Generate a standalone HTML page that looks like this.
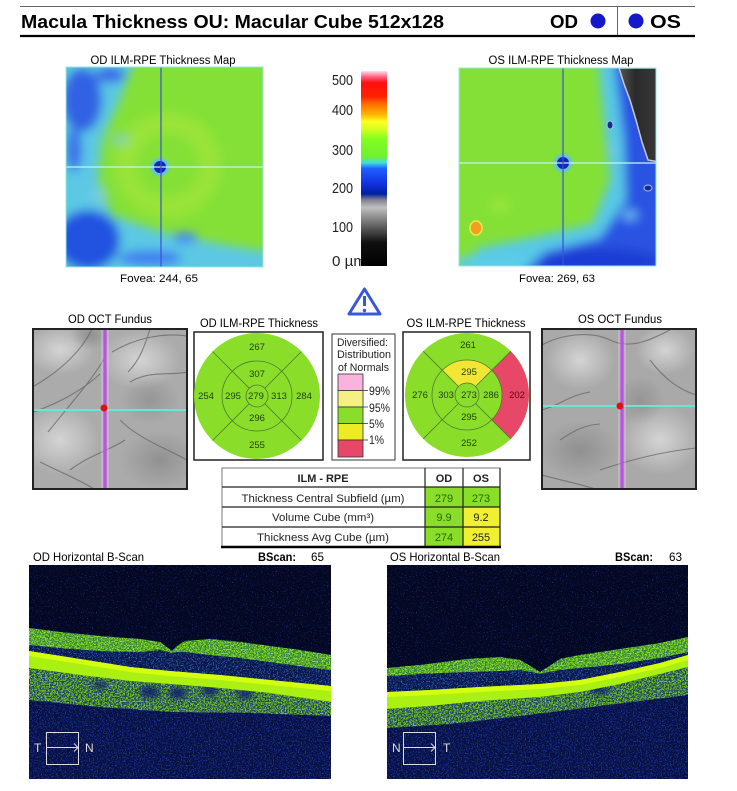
<!DOCTYPE html>
<html><head><meta charset="utf-8">
<style>
html,body{margin:0;padding:0;background:#fff;}
svg{display:block;}
text{font-family:"Liberation Sans",Arial,sans-serif;}
</style></head>
<body>
<svg width="737" height="791" viewBox="0 0 737 791" xmlns="http://www.w3.org/2000/svg">
<defs>
 <filter id="bl5" x="-50%" y="-50%" width="200%" height="200%"><feGaussianBlur stdDeviation="5"/></filter>
 <filter id="bl3" x="-50%" y="-50%" width="200%" height="200%"><feGaussianBlur stdDeviation="3"/></filter>
 <filter id="bl1" x="-50%" y="-50%" width="200%" height="200%"><feGaussianBlur stdDeviation="1.2"/></filter>
 <filter id="spkA" x="0" y="0" width="1" height="1" color-interpolation-filters="sRGB">
  <feTurbulence type="fractalNoise" baseFrequency="0.75" numOctaves="2" seed="2" result="n"/>
  <feColorMatrix in="n" type="matrix" values="0 0 0 0 0 0 0 0 0 0 0 0 0 0 0 5 0 0 0 -2.1" result="a"/>
  <feComposite in="SourceGraphic" in2="a" operator="in"/>
 </filter>
 <filter id="spkM" x="0" y="0" width="1" height="1" color-interpolation-filters="sRGB">
  <feTurbulence type="fractalNoise" baseFrequency="0.75" numOctaves="2" seed="4" result="n"/>
  <feColorMatrix in="n" type="matrix" values="0 0 0 0 0 0 0 0 0 0 0 0 0 0 0 6 0 0 0 -3.1" result="a"/>
  <feComposite in="SourceGraphic" in2="a" operator="in"/>
 </filter>
 <filter id="spkB" x="0" y="0" width="1" height="1" color-interpolation-filters="sRGB">
  <feTurbulence type="fractalNoise" baseFrequency="0.8" numOctaves="2" seed="7" result="n"/>
  <feColorMatrix in="n" type="matrix" values="0 0 0 0 0 0 0 0 0 0 0 0 0 0 0 8 0 0 0 -5" result="a"/>
  <feComposite in="SourceGraphic" in2="a" operator="in"/>
 </filter>
 <linearGradient id="cbar" x1="0" y1="0" x2="0" y2="1">
  <stop offset="0" stop-color="#ffe0f0"/>
  <stop offset="0.03" stop-color="#ff6080"/>
  <stop offset="0.06" stop-color="#ff1010"/>
  <stop offset="0.13" stop-color="#ff2000"/>
  <stop offset="0.17" stop-color="#ff7000"/>
  <stop offset="0.22" stop-color="#ffb000"/>
  <stop offset="0.26" stop-color="#ffff20"/>
  <stop offset="0.30" stop-color="#d0ff20"/>
  <stop offset="0.35" stop-color="#80ff20"/>
  <stop offset="0.44" stop-color="#70f030"/>
  <stop offset="0.47" stop-color="#40e0e0"/>
  <stop offset="0.50" stop-color="#2060ff"/>
  <stop offset="0.58" stop-color="#1030e0"/>
  <stop offset="0.63" stop-color="#0020a0"/>
  <stop offset="0.66" stop-color="#808090"/>
  <stop offset="0.70" stop-color="#c0c0c0"/>
  <stop offset="0.78" stop-color="#707070"/>
  <stop offset="0.88" stop-color="#101010"/>
  <stop offset="1" stop-color="#000000"/>
 </linearGradient>
 <linearGradient id="corner" x1="0" y1="0" x2="1" y2="0">
  <stop offset="0" stop-color="#555"/>
  <stop offset="0.4" stop-color="#2a2a2a"/>
  <stop offset="1" stop-color="#3a3a3a"/>
 </linearGradient>
 <clipPath id="cOD"><rect x="66" y="67" width="197" height="200"/></clipPath>
 <clipPath id="cOS"><rect x="459" y="68" width="197" height="198"/></clipPath>
 <clipPath id="cFD"><rect x="33" y="329" width="154" height="160"/></clipPath>
 <clipPath id="cFS"><rect x="542" y="329" width="154" height="160"/></clipPath>
 <clipPath id="cBD"><rect x="29" y="565" width="302" height="214"/></clipPath>
 <clipPath id="cBS"><rect x="387" y="565" width="301" height="214"/></clipPath>
 <radialGradient id="light" cx="0.5" cy="0.5" r="0.5"><stop offset="0" stop-color="#d4d4d4"/><stop offset="1" stop-color="#d4d4d4" stop-opacity="0"/></radialGradient>
 <radialGradient id="dark" cx="0.5" cy="0.5" r="0.5"><stop offset="0" stop-color="#808080"/><stop offset="1" stop-color="#808080" stop-opacity="0"/></radialGradient>
</defs>

<rect width="737" height="791" fill="#fff"/>

<!-- Header -->
<line x1="20" y1="6.5" x2="695" y2="6.5" stroke="#666" stroke-width="1"/>
<text x="21" y="28" font-size="18" font-weight="bold" fill="#000" textLength="423" lengthAdjust="spacingAndGlyphs">Macula Thickness OU: Macular Cube 512x128</text>
<text x="550" y="28" font-size="18" font-weight="bold" fill="#000" textLength="28" lengthAdjust="spacingAndGlyphs">OD</text>
<circle cx="598" cy="21" r="7.5" fill="#1418c8"/>
<line x1="617.5" y1="7" x2="617.5" y2="35" stroke="#666" stroke-width="1"/>
<circle cx="636" cy="21" r="7.5" fill="#1418c8"/>
<text x="650" y="28" font-size="18" font-weight="bold" fill="#000" textLength="31" lengthAdjust="spacingAndGlyphs">OS</text>
<line x1="20" y1="36" x2="695" y2="36" stroke="#000" stroke-width="2.2"/>

<!-- OD map -->
<text x="163" y="64" font-size="11.5" text-anchor="middle" textLength="145" lengthAdjust="spacingAndGlyphs">OD ILM-RPE Thickness Map</text>
<g clip-path="url(#cOD)">
 <rect x="66" y="67" width="197" height="200" fill="#84e036"/>
 <g filter="url(#bl5)">
  <circle cx="168" cy="165" r="42" fill="none" stroke="#aee83c" stroke-width="22" opacity="0.5"/>
  <path d="M60,60 L135,60 L120,100 L102,140 L98,180 L112,215 L160,232 L230,246 L270,252 L270,275 L60,275 Z" fill="#5cc8e4"/>
  <ellipse cx="82" cy="100" rx="20" ry="32" fill="#3262e4"/>
  <ellipse cx="74" cy="150" rx="8" ry="22" fill="#3a70e8"/>
  <ellipse cx="88" cy="240" rx="32" ry="30" fill="#2452e0"/>
  <ellipse cx="150" cy="258" rx="32" ry="8" fill="#4080f0"/>
  <ellipse cx="185" cy="238" rx="12" ry="6" fill="#4a8af0"/>
  <ellipse cx="110" cy="75" rx="15" ry="8" fill="#3a6ae8"/>
  <ellipse cx="120" cy="140" rx="10" ry="6" fill="#80d0d8" opacity="0.7"/>
  <ellipse cx="100" cy="195" rx="8" ry="10" fill="#80d0d8" opacity="0.7"/>
 </g>
 <circle cx="160" cy="167" r="9" fill="#60c0f0" filter="url(#bl1)"/>
 <circle cx="160" cy="167" r="6" fill="#1424b4"/>
 <line x1="66" y1="167" x2="263" y2="167" stroke="#c8f4f4" stroke-width="1.2"/>
 <line x1="161" y1="67" x2="161" y2="267" stroke="#3a50d8" stroke-width="1.2"/>
</g>
<rect x="66" y="67" width="197" height="200" fill="none" stroke="#90e8e8" stroke-width="1"/>
<text x="159" y="282" font-size="11" text-anchor="middle" textLength="78" lengthAdjust="spacingAndGlyphs">Fovea: 244, 65</text>

<!-- Colorbar -->
<g font-size="15" fill="#222">
 <text x="332" y="85" textLength="21" lengthAdjust="spacingAndGlyphs">500</text>
 <text x="332" y="115" textLength="21" lengthAdjust="spacingAndGlyphs">400</text>
 <text x="332" y="155" textLength="21" lengthAdjust="spacingAndGlyphs">300</text>
 <text x="332" y="193" textLength="21" lengthAdjust="spacingAndGlyphs">200</text>
 <text x="332" y="232" textLength="21" lengthAdjust="spacingAndGlyphs">100</text>
 <text x="332" y="266" textLength="34" lengthAdjust="spacingAndGlyphs">0 µm</text>
</g>
<rect x="361" y="71" width="26" height="195" fill="url(#cbar)"/>

<!-- OS map -->
<text x="561" y="64" font-size="11.5" text-anchor="middle" textLength="145" lengthAdjust="spacingAndGlyphs">OS ILM-RPE Thickness Map</text>
<g clip-path="url(#cOS)">
 <rect x="459" y="68" width="197" height="198" fill="#84e036"/>
 <g filter="url(#bl5)">
  <path d="M598,60 L665,60 L665,275 L462,275 L478,248 L540,236 L592,224 L610,180 L604,120 Z" fill="#58c8e6"/>
  <path d="M614,60 L665,60 L665,275 L520,275 L545,252 L600,238 L626,200 L624,140 Z" fill="#2a52e2"/>
  <ellipse cx="600" cy="262" rx="60" ry="14" fill="#1c3cd4"/>
  <ellipse cx="492" cy="262" rx="38" ry="8" fill="#5ccce8"/>
  <ellipse cx="500" cy="205" rx="10" ry="6" fill="#a8e840" opacity="0.7"/>
  <ellipse cx="630" cy="215" rx="8" ry="6" fill="#70c8f0" opacity="0.8"/>
  <ellipse cx="612" cy="150" rx="6" ry="8" fill="#70c8f0" opacity="0.7"/>
 </g>
 <path d="M619,68 L660,68 L660,162 L648,160 L642,142 L636,120 L630,100 L624,84 Z" fill="url(#corner)" stroke="#c8c8c8" stroke-width="1.5"/>
 <ellipse cx="476" cy="228" rx="6" ry="7" fill="#f0a020" stroke="#f0e840" stroke-width="1.5"/>
 <ellipse cx="610" cy="125" rx="3" ry="4" fill="#1a2a90" stroke="#a0c0f0" stroke-width="1"/>
 <ellipse cx="648" cy="188" rx="4" ry="3" fill="#1a2a90" stroke="#a0c0f0" stroke-width="1"/>
 <circle cx="563" cy="163" r="9" fill="#60c0f0" filter="url(#bl1)"/>
 <circle cx="563" cy="163" r="6" fill="#1424b4"/>
 <line x1="459" y1="163" x2="656" y2="163" stroke="#c8f4f4" stroke-width="1.2"/>
 <line x1="563" y1="68" x2="563" y2="266" stroke="#3a50d8" stroke-width="1.2"/>
</g>
<rect x="459" y="68" width="197" height="198" fill="none" stroke="#90e8e8" stroke-width="1"/>
<text x="557" y="282" font-size="11" text-anchor="middle" textLength="76" lengthAdjust="spacingAndGlyphs">Fovea: 269, 63</text>

<!-- Warning triangle -->
<path d="M364.5,289 L349,314 L380,314 Z" fill="#fff" stroke="#3858d8" stroke-width="3" stroke-linejoin="round"/>
<line x1="364.5" y1="296" x2="364.5" y2="306" stroke="#3858d8" stroke-width="3"/>
<circle cx="364.5" cy="310.5" r="1.7" fill="#3858d8"/>

<!-- OD fundus -->
<text x="110" y="323" font-size="11.5" text-anchor="middle" textLength="84" lengthAdjust="spacingAndGlyphs">OD OCT Fundus</text>
<g clip-path="url(#cFD)">
 <rect x="33" y="329" width="154" height="160" fill="#ababab"/>
 <ellipse cx="60" cy="440" rx="40" ry="35" fill="url(#light)"/>
 <ellipse cx="140" cy="360" rx="40" ry="30" fill="url(#light)"/>
 <ellipse cx="60" cy="350" rx="35" ry="25" fill="url(#light)"/>
 <ellipse cx="160" cy="460" rx="40" ry="30" fill="url(#dark)" opacity="0.6"/>
 <ellipse cx="150" cy="400" rx="30" ry="25" fill="url(#dark)" opacity="0.5"/>
 <ellipse cx="90" cy="335" rx="20" ry="15" fill="url(#dark)" opacity="0.6"/>
 <g fill="none" stroke="#666" stroke-width="1.1" opacity="0.75">
  <path d="M92,329 C82,350 62,370 34,386"/>
  <path d="M112,352 C132,340 160,332 187,336"/>
  <path d="M106,356 C92,380 72,402 48,432"/>
  <path d="M120,420 C140,440 170,450 187,460"/>
  <path d="M40,462 C60,472 80,480 94,489"/>
  <path d="M130,382 C150,370 170,376 187,372"/>
  <path d="M34,412 C60,402 80,392 100,374"/>
  <path d="M150,329 C145,345 140,360 128,372"/>
  <path d="M70,470 C90,455 110,450 125,440"/>
 </g>
 <line x1="33" y1="410" x2="187" y2="410" stroke="#66e8d4" stroke-width="2"/>
 <line x1="102" y1="329" x2="102" y2="489" stroke="#e8c8f0" stroke-width="1" opacity="0.7"/>
 <line x1="108" y1="329" x2="108" y2="489" stroke="#e8c8f0" stroke-width="1" opacity="0.7"/>
 <line x1="105" y1="329" x2="105" y2="489" stroke="#c04ee8" stroke-width="3"/>
 <circle cx="104" cy="408" r="3.5" fill="#e01010"/>
</g>
<rect x="33" y="329" width="154" height="160" fill="none" stroke="#222" stroke-width="2"/>

<!-- OD ETDRS -->
<text x="259" y="327" font-size="11.5" text-anchor="middle" textLength="118" lengthAdjust="spacingAndGlyphs">OD ILM-RPE Thickness</text>
<rect x="194" y="332" width="129" height="128" fill="#fff" stroke="#222" stroke-width="1.5"/>
<g>
 <circle cx="257" cy="396" r="63" fill="#8ade2a"/>
 <g fill="none" stroke="#4c7a30" stroke-width="0.8">
  <circle cx="257" cy="396" r="35"/>
  <circle cx="257" cy="396" r="11"/>
  <line x1="264.8" y1="388.2" x2="301.5" y2="351.5"/>
  <line x1="249.2" y1="388.2" x2="212.5" y2="351.5"/>
  <line x1="264.8" y1="403.8" x2="301.5" y2="440.5"/>
  <line x1="249.2" y1="403.8" x2="212.5" y2="440.5"/>
 </g>
 <g font-size="9.5" text-anchor="middle" fill="#1e4010">
  <text x="257" y="350">267</text>
  <text x="257" y="377">307</text>
  <text x="206" y="399">254</text>
  <text x="233" y="399">295</text>
  <text x="256" y="399">279</text>
  <text x="279" y="399">313</text>
  <text x="304" y="399">284</text>
  <text x="257" y="421">296</text>
  <text x="257" y="448">255</text>
 </g>
</g>

<!-- Legend -->
<rect x="332" y="334" width="63" height="126" fill="#fff" stroke="#333" stroke-width="1"/>
<g font-size="11" fill="#222">
 <text x="337" y="346" textLength="51" lengthAdjust="spacingAndGlyphs">Diversified:</text>
 <text x="337" y="358" textLength="54" lengthAdjust="spacingAndGlyphs">Distribution</text>
 <text x="338" y="371" textLength="51" lengthAdjust="spacingAndGlyphs">of Normals</text>
</g>
<rect x="338" y="374" width="25" height="16.5" fill="#f8b4dc" stroke="#333" stroke-width="0.8"/>
<rect x="338" y="390.5" width="25" height="16.5" fill="#f6f082" stroke="#333" stroke-width="0.8"/>
<rect x="338" y="407" width="25" height="16.5" fill="#8ade2a" stroke="#333" stroke-width="0.8"/>
<rect x="338" y="423.5" width="25" height="16.5" fill="#ecec22" stroke="#333" stroke-width="0.8"/>
<rect x="338" y="440" width="25" height="17" fill="#e84868" stroke="#333" stroke-width="0.8"/>
<g stroke="#333" stroke-width="0.8">
 <line x1="363" y1="390.5" x2="368" y2="390.5"/>
 <line x1="363" y1="407" x2="368" y2="407"/>
 <line x1="363" y1="423.5" x2="368" y2="423.5"/>
 <line x1="363" y1="440" x2="368" y2="440"/>
</g>
<g font-size="12" fill="#222">
 <text x="369" y="395" textLength="21" lengthAdjust="spacingAndGlyphs">99%</text>
 <text x="369" y="412" textLength="21" lengthAdjust="spacingAndGlyphs">95%</text>
 <text x="369" y="428" textLength="15" lengthAdjust="spacingAndGlyphs">5%</text>
 <text x="369" y="444" textLength="15" lengthAdjust="spacingAndGlyphs">1%</text>
</g>

<!-- OS ETDRS -->
<text x="466" y="327" font-size="11.5" text-anchor="middle" textLength="119" lengthAdjust="spacingAndGlyphs">OS ILM-RPE Thickness</text>
<rect x="403" y="332" width="127" height="128" fill="#fff" stroke="#222" stroke-width="1.5"/>
<g>
 <circle cx="467" cy="395" r="62" fill="#8ade2a"/>
 <path d="M510.8,351.2 A62,62 0 0 1 510.8,438.8 L491.7,419.7 A35,35 0 0 0 491.7,370.3 Z" fill="#e84868"/>
 <path d="M442.3,370.3 A35,35 0 0 1 491.7,370.3 L475.5,386.5 A12,12 0 0 0 458.5,386.5 Z" fill="#f2e634"/>
 <g fill="none" stroke="#4c7a30" stroke-width="0.8">
  <circle cx="467" cy="395" r="35"/>
  <circle cx="467" cy="395" r="12"/>
  <line x1="475.5" y1="386.5" x2="510.8" y2="351.2"/>
  <line x1="458.5" y1="386.5" x2="423.2" y2="351.2"/>
  <line x1="475.5" y1="403.5" x2="510.8" y2="438.8"/>
  <line x1="458.5" y1="403.5" x2="423.2" y2="438.8"/>
 </g>
 <g font-size="9.5" text-anchor="middle" fill="#1e4010">
  <text x="468" y="348">261</text>
  <text x="469" y="375">295</text>
  <text x="420" y="398">276</text>
  <text x="446" y="398">303</text>
  <text x="469" y="398">273</text>
  <text x="491" y="398">286</text>
  <text x="517" y="398" fill="#6a0010">202</text>
  <text x="469" y="420">295</text>
  <text x="469" y="446">252</text>
 </g>
</g>

<!-- OS fundus -->
<text x="620" y="323" font-size="11.5" text-anchor="middle" textLength="84" lengthAdjust="spacingAndGlyphs">OS OCT Fundus</text>
<g clip-path="url(#cFS)">
 <rect x="542" y="329" width="154" height="160" fill="#a9a9a9"/>
 <ellipse cx="580" cy="360" rx="35" ry="30" fill="url(#light)"/>
 <ellipse cx="660" cy="440" rx="40" ry="35" fill="url(#light)"/>
 <ellipse cx="665" cy="350" rx="30" ry="25" fill="url(#light)"/>
 <ellipse cx="580" cy="450" rx="40" ry="30" fill="url(#dark)" opacity="0.6"/>
 <ellipse cx="640" cy="400" rx="25" ry="25" fill="url(#dark)" opacity="0.5"/>
 <g fill="none" stroke="#666" stroke-width="1.1" opacity="0.75">
  <path d="M542,345 C560,335 590,330 610,340 C630,350 650,340 670,330"/>
  <path d="M542,410 C560,405 570,395 590,392"/>
  <path d="M600,470 C630,460 660,452 696,448"/>
  <path d="M542,475 C560,480 580,484 595,489"/>
  <path d="M650,360 C665,380 680,390 696,395"/>
  <path d="M560,440 C575,430 585,425 600,424"/>
 </g>
 <line x1="542" y1="406" x2="696" y2="406" stroke="#66e8d4" stroke-width="2"/>
 <line x1="619" y1="329" x2="619" y2="489" stroke="#e8c8f0" stroke-width="1" opacity="0.7"/>
 <line x1="625" y1="329" x2="625" y2="489" stroke="#e8c8f0" stroke-width="1" opacity="0.7"/>
 <line x1="622" y1="329" x2="622" y2="489" stroke="#c04ee8" stroke-width="3"/>
 <circle cx="620" cy="406" r="3.5" fill="#e01010"/>
</g>
<rect x="542" y="329" width="154" height="160" fill="none" stroke="#222" stroke-width="2"/>

<!-- Table -->
<rect x="425" y="487" width="38" height="60" fill="#8ade2a"/>
<rect x="463" y="487" width="37" height="20" fill="#8ade2a"/>
<rect x="463" y="507" width="37" height="40" fill="#f0f030"/>
<rect x="222" y="468" width="278" height="79" fill="none" stroke="#777" stroke-width="1"/>
<g stroke="#222" stroke-width="1.2">
 <line x1="222" y1="487" x2="500" y2="487"/>
 <line x1="222" y1="507" x2="500" y2="507"/>
 <line x1="222" y1="527" x2="500" y2="527"/>
 <line x1="425" y1="468" x2="425" y2="547"/>
 <line x1="463" y1="468" x2="463" y2="547"/>
 <line x1="500" y1="468" x2="500" y2="547"/>
</g>
<line x1="221" y1="547" x2="501" y2="547" stroke="#000" stroke-width="2.5"/>
<g font-size="11" text-anchor="middle" fill="#222">
 <text x="323" y="482" font-weight="bold" textLength="51" lengthAdjust="spacingAndGlyphs">ILM - RPE</text>
 <text x="444" y="482" font-weight="bold">OD</text>
 <text x="481" y="482" font-weight="bold">OS</text>
 <text x="323" y="502" textLength="163" lengthAdjust="spacingAndGlyphs">Thickness Central Subfield (µm)</text>
 <text x="323" y="521" textLength="102" lengthAdjust="spacingAndGlyphs">Volume Cube (mm³)</text>
 <text x="323" y="541" textLength="132" lengthAdjust="spacingAndGlyphs">Thickness Avg Cube (µm)</text>
 <text x="444" y="502" fill="#236a10">279</text>
 <text x="481" y="502" fill="#236a10">273</text>
 <text x="444" y="521" fill="#236a10">9.9</text>
 <text x="481" y="521" fill="#222">9.2</text>
 <text x="444" y="541" fill="#236a10">274</text>
 <text x="481" y="541" fill="#222">255</text>
</g>

<!-- OD B-scan -->
<text x="33" y="561" font-size="12" textLength="111" lengthAdjust="spacingAndGlyphs">OD Horizontal B-Scan</text>
<text x="258" y="561" font-size="12" font-weight="bold" textLength="38" lengthAdjust="spacingAndGlyphs">BScan:</text>
<text x="311" y="561" font-size="12" textLength="13" lengthAdjust="spacingAndGlyphs">65</text>
<g clip-path="url(#cBD)">
 <rect x="29" y="565" width="302" height="214" fill="#040822"/>
 <g filter="url(#spkB)" opacity="0.75"><rect x="29" y="565" width="302" height="214" fill="#2440b0"/></g>
 <path d="M29,700 L100,707 L170,712 L250,713 L331,716 L331,779 L29,779 Z" fill="#081040"/>
 <g filter="url(#spkM)" opacity="0.9"><path d="M29,700 L100,707 L170,712 L250,713 L331,716 L331,779 L29,779 Z" fill="#1e3cb0"/></g>
 <path d="M29,628 L60,632 L100,636 L140,639 L160,642 L168,648 L172,651 L177,646 L185,641 L210,639 L240,642 L270,646 L300,650 L331,655 L331,686 L270,680 L220,675 L170,671 L130,667 L80,659 L29,651 Z" fill="#0a144a"/>
 <g filter="url(#spkM)"><path d="M29,628 L60,632 L100,636 L140,639 L160,642 L168,648 L172,651 L177,646 L185,641 L210,639 L240,642 L270,646 L300,650 L331,655 L331,686 L270,680 L220,675 L170,671 L130,667 L80,659 L29,651 Z" fill="#2c6cb8"/></g>
 <path d="M29,628 L60,632 L100,636 L140,639 L160,642 L168,648 L172,651 L177,646 L185,641 L210,639 L240,642 L270,646 L300,650 L331,655 L331,670 L300,666 L270,662 L240,658 L210,655 L185,652 L177,652 L172,653 L168,652 L160,650 L140,652 L100,651 L60,648 L29,645 Z" fill="#2a7a40"/>
 <g filter="url(#spkA)"><path d="M29,628 L60,632 L100,636 L140,639 L160,642 L168,648 L172,651 L177,646 L185,641 L210,639 L240,642 L270,646 L300,650 L331,655 L331,670 L300,666 L270,662 L240,658 L210,655 L185,652 L177,652 L172,653 L168,652 L160,650 L140,652 L100,651 L60,648 L29,645 Z" fill="#9ae820"/></g>
 <path d="M29,668 L80,675 L130,681 L170,684 L220,688 L270,693 L331,702 L331,716 L250,713 L170,712 L100,707 L29,700 Z" fill="#163a68"/>
 <g filter="url(#spkA)"><path d="M29,668 L80,675 L130,681 L170,684 L220,688 L270,693 L331,702 L331,716 L250,713 L170,712 L100,707 L29,700 Z" fill="#80d420"/></g>
 <g filter="url(#bl3)" fill="#0c1a70" opacity="0.85">
  <ellipse cx="150" cy="692" rx="10" ry="6"/>
  <ellipse cx="178" cy="693" rx="9" ry="6"/>
  <ellipse cx="210" cy="690" rx="8" ry="6"/>
  <ellipse cx="245" cy="694" rx="8" ry="5"/>
  <ellipse cx="100" cy="685" rx="7" ry="4"/>
 </g>
 <path d="M29,651 L80,659 L130,667 L170,671 L220,675 L270,680 L331,686 L331,702 L270,693 L220,688 L170,684 L130,681 L80,675 L29,668 Z" fill="#aaf012"/>
 <path d="M29,651 L80,659 L130,667 L170,671 L220,675 L270,680 L331,686 L331,691 L270,685 L220,680 L170,676 L130,672 L80,664 L29,656 Z" fill="#d4ff10"/>
 <g fill="none" stroke="#dcdcdc" stroke-width="1">
  <rect x="46.5" y="732.5" width="32" height="32"/>
  <line x1="46" y1="747.5" x2="78" y2="747.5"/>
  <polyline points="74,743.5 78,747.5 74,751.5"/>
 </g>
 <text x="34" y="752" font-size="12" fill="#dcdcdc">T</text>
 <text x="85" y="752" font-size="12" fill="#dcdcdc">N</text>
</g>

<!-- OS B-scan -->
<text x="390" y="561" font-size="12" textLength="110" lengthAdjust="spacingAndGlyphs">OS Horizontal B-Scan</text>
<text x="615" y="561" font-size="12" font-weight="bold" textLength="38" lengthAdjust="spacingAndGlyphs">BScan:</text>
<text x="669" y="561" font-size="12" textLength="13" lengthAdjust="spacingAndGlyphs">63</text>
<g clip-path="url(#cBS)">
 <rect x="387" y="565" width="301" height="214" fill="#040822"/>
 <g filter="url(#spkB)" opacity="0.75"><rect x="387" y="565" width="301" height="214" fill="#2440b0"/></g>
 <path d="M387,728 L450,724 L520,716 L600,706 L688,695 L688,779 L387,779 Z" fill="#081040"/>
 <g filter="url(#spkM)" opacity="0.9"><path d="M387,728 L450,724 L520,716 L600,706 L688,695 L688,779 L387,779 Z" fill="#1e3cb0"/></g>
 <path d="M387,668 L420,665 L467,659 L500,657 L520,660 L532,667 L540,672 L548,667 L560,659 L580,655 L620,649 L660,643 L688,637 L688,655 L660,663 L620,672 L580,680 L540,684 L480,687 L430,690 L387,692 Z" fill="#0a144a"/>
 <g filter="url(#spkM)"><path d="M387,668 L420,665 L467,659 L500,657 L520,660 L532,667 L540,672 L548,667 L560,659 L580,655 L620,649 L660,643 L688,637 L688,655 L660,663 L620,672 L580,680 L540,684 L480,687 L430,690 L387,692 Z" fill="#2c6cb8"/></g>
 <path d="M387,668 L420,665 L467,659 L500,657 L520,660 L532,667 L540,672 L548,667 L560,659 L580,655 L620,649 L660,643 L688,637 L688,652 L660,658 L620,664 L580,668 L560,670 L548,672 L540,674 L532,672 L520,670 L500,671 L467,672 L420,674 L387,676 Z" fill="#2a7a40"/>
 <g filter="url(#spkA)"><path d="M387,668 L420,665 L467,659 L500,657 L520,660 L532,667 L540,672 L548,667 L560,659 L580,655 L620,649 L660,643 L688,637 L688,652 L660,658 L620,664 L580,668 L560,670 L548,672 L540,674 L532,672 L520,670 L500,671 L467,672 L420,674 L387,676 Z" fill="#9ae820"/></g>
 <path d="M387,709 L430,706 L480,701 L540,697 L580,692 L620,684 L660,674 L688,667 L688,695 L600,706 L520,716 L450,724 L387,728 Z" fill="#163a68"/>
 <g filter="url(#spkA)"><path d="M387,709 L430,706 L480,701 L540,697 L580,692 L620,684 L660,674 L688,667 L688,695 L600,706 L520,716 L450,724 L387,728 Z" fill="#80d420"/></g>
 <g filter="url(#bl3)" fill="#0c1a70" opacity="0.8">
  <ellipse cx="450" cy="700" rx="10" ry="4"/>
  <ellipse cx="600" cy="690" rx="10" ry="4"/>
 </g>
 <path d="M387,692 L430,690 L480,687 L540,684 L580,680 L620,672 L660,663 L688,655 L688,667 L660,674 L620,684 L580,692 L540,697 L480,701 L430,706 L387,709 Z" fill="#aaf012"/>
 <path d="M387,692 L430,690 L480,687 L540,684 L580,680 L620,672 L660,663 L688,655 L688,660 L660,668 L620,677 L580,685 L540,689 L480,692 L430,695 L387,697 Z" fill="#d4ff10"/>
 <g fill="none" stroke="#dcdcdc" stroke-width="1">
  <rect x="403.5" y="732.5" width="32" height="32"/>
  <line x1="403" y1="747.5" x2="435" y2="747.5"/>
  <polyline points="431,743.5 435,747.5 431,751.5"/>
 </g>
 <text x="392" y="752" font-size="12" fill="#dcdcdc">N</text>
 <text x="443" y="752" font-size="12" fill="#dcdcdc">T</text>
</g>
</svg>
</body></html>
